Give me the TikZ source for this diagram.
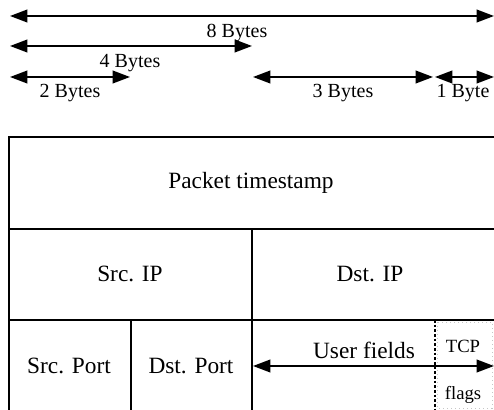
\documentclass[tikz,border=0pt]{standalone}
\usepackage{fontspec}
\setmainfont{Liberation Serif}
\usetikzlibrary{arrows.meta}

\tikzset{every picture/.style={line width=1.5pt}}
\tikzset{
  dimline/.style={line width=1.3pt,{Triangle[length=13pt,width=9.5pt]}-{Triangle[length=13pt,width=9.5pt]}},
  sizelabel/.style={inner sep=0.75pt,font=\fontsize{15}{18}\selectfont},
  fieldlabel/.style={inner sep=0.75pt,font=\fontsize{17.5}{21}\selectfont},
  flaglabel/.style={inner sep=0.75pt,font=\fontsize{14}{17}\selectfont},
  flagline/.style={line width=1pt,dash pattern={on 2pt off 1.5pt}},
  flagframe/.style={line width=0.5pt,color=gray!45,dash pattern={on 1pt off 2pt}}
}

\begin{document}
\begin{tikzpicture}[x=0.75pt,y=0.75pt,yscale=-1,xscale=1]
\clip (0,0) rectangle (494,410); %picture is 494 wide and 410 high, cut at right and bottom

%Straight Lines: byte widths
\coordinate (eightL) at (10,16);
\coordinate (eightR) at (494,16);
\draw [dimline] (eightL) -- (eightR) ;
\coordinate (fourL) at (10,46);
\coordinate (fourR) at (252,46);
\draw [dimline] (fourL) -- (fourR) ;
\coordinate (twoL) at (10,77);
\coordinate (twoR) at (130,77);
\draw [dimline] (twoL) -- (twoR) ;
\coordinate (threeL) at (253,77);
\coordinate (threeR) at (433,77);
\draw [dimline] (threeL) -- (threeR) ;
\coordinate (oneL) at (435,77);
\coordinate (oneR) at (494,77);
\draw [dimline] (oneL) -- (oneR) ;

% Text Node
\node [sizelabel] (eightTxt) at (237,33) {8 Bytes};
% Text Node
\node [sizelabel] (fourTxt) at (130,63) {4 Bytes};
% Text Node
\node [sizelabel] (twoTxt) at (70,93) {2 Bytes};
% Text Node
\node [sizelabel] (threeTxt) at (343,93) {3 Bytes};
% Text Node
\node [sizelabel] (oneTxt) at (463,93) {1 Byte};

%Shape: Rectangle, the record
\draw (9,137) rectangle (520,440) ;
%Straight Lines: rows and columns
\draw (9,229) -- (520,229) ;
\draw (9,320) -- (520,320) ;
\draw (252,229) -- (252,440) ;
\draw (131,320) -- (131,440) ;
%Shape: Rectangle, TCP flags
\draw [flagframe] (437,322) rectangle (492,408) ;
\draw [flagline] (435,320) -- (435,440) ;

% Text Node
\node [fieldlabel] (stamp) at (251,183) {Packet timestamp};
% Text Node
\node [fieldlabel] (srcIP) at (130,274) {Src. IP};
% Text Node
\node [fieldlabel] (dstIP) at (370,274) {Dst. IP};
% Text Node
\node [fieldlabel] (srcPort) at (69,366) {Src. Port};
% Text Node
\node [fieldlabel] (dstPort) at (191,366) {Dst. Port};
% Text Node
\node [fieldlabel] (user) at (364,350) {User fields};
% Text Node
\node [flaglabel] (tcp) at (463,346) {TCP};
% Text Node
\node [flaglabel] (flags) at (463,395) {flags};

%Straight Lines: user fields
\coordinate (userL) at (253,366);
\coordinate (userR) at (494,366);
\draw [dimline] (userL) -- (userR) ;

\end{tikzpicture}
\end{document}
